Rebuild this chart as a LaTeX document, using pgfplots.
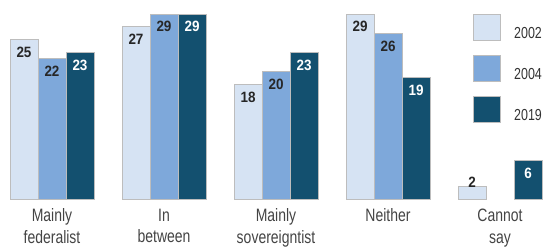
\documentclass[border=0pt]{standalone}
\usepackage{pgfplots}
\pgfplotsset{compat=1.18}
\usepackage{fontspec}
\setmainfont{Liberation Sans}[FakeStretch=0.78]
\newfontfamily\numfont{Liberation Sans}[FakeStretch=0.9]
\definecolor{cA}{HTML}{D6E3F3}
\definecolor{cB}{HTML}{7EA8DA}
\definecolor{cC}{HTML}{13506F}
\definecolor{edge}{HTML}{BDBDBD}
\definecolor{lab}{HTML}{444444}
\definecolor{legt}{HTML}{333333}
\begin{document}
\begin{tikzpicture}
\begin{axis}[
  scale only axis, width=545bp, height=199bp,
  xmin=-0.4643, xmax=4.4018, ymin=0, ymax=31.2,
  /pgf/number format/assume math mode=true,
  ybar, bar width=28bp,
  axis line style={draw=none}, ytick=\empty,
  xtick={0,1,2,3,4}, major tick length=0pt,
  xticklabels={Mainly\\federalist, In\\between, Mainly\\sovereigntist, Neither, Cannot\\say},
  xticklabel style={align=center, font=\fontsize{18}{22}\selectfont, text=lab, inner sep=0pt, anchor=north, yshift=-9.5bp},
  clip=false,
  every node near coord/.append style={font=\numfont\bfseries\fontsize{15}{15}\selectfont, anchor=north, yshift=-7bp, inner sep=0pt, text=black!85},
  legend style={at={(0.8679,0.9296)}, anchor=north west, draw=none, fill=none, inner sep=0pt,
    row sep=14bp, column sep=13bp, font=\fontsize{16}{16}\selectfont, text=legt,
    nodes={inner sep=0pt}},
  legend image code/.code={\draw[#1] (0bp,-7.5bp) rectangle (27bp,18.5bp);},
]
\addplot[fill=cA, draw=edge, line width=1bp, bar shift=-28bp, nodes near coords] coordinates {(0,25) (1,27) (2,18) (3,29)};
\addplot[fill=cB, draw=edge, line width=1bp, bar shift=0bp, nodes near coords] coordinates {(0,22) (1,29) (2,20) (3,26)};
\addplot[fill=cC, draw=edge, line width=1bp, bar shift=28bp, nodes near coords, every node near coord/.append style={text=white}] coordinates {(0,23) (1,29) (2,23) (3,19) (4,6)};
\addplot[forget plot, fill=cA, draw=edge, line width=1bp, bar shift=-28bp, nodes near coords, every node near coord/.append style={anchor=south, yshift=5bp}] coordinates {(4,2)};
\legend{2002,2004,2019}
\end{axis}
\pgfresetboundingbox
\path[use as bounding box] (current axis.south west) ++(0,-49bp) rectangle (current axis.north east);
\end{tikzpicture}
\end{document}
